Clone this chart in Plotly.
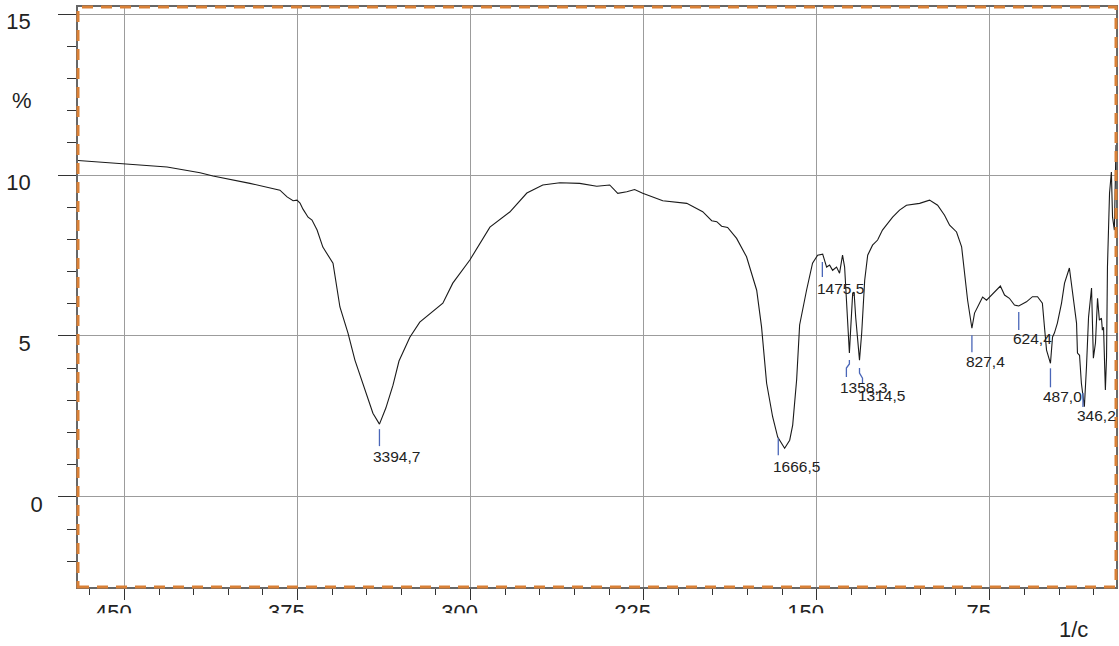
import plotly.graph_objects as go

# ---------------- data ----------------
wavenumber = [4701, 4501, 4315, 4172, 4116, 3956, 3856, 3826, 3795, 3769, 3752, 3739, 3726,
              3704, 3687, 3665, 3640, 3596, 3566, 3531, 3501, 3458, 3423, 3394.7, 3367, 3336,
              3310, 3263, 3220, 3120, 3077, 3003, 2916, 2830, 2756, 2687, 2613, 2527, 2453,
              2397, 2362, 2323, 2289, 2254, 2167, 2063, 1994, 1955, 1933, 1912, 1886, 1847,
              1804, 1760, 1739, 1717, 1691, 1669, 1639, 1617, 1604, 1587, 1574, 1544, 1518,
              1496, 1474, 1457, 1444, 1431, 1414, 1401, 1388, 1379, 1370, 1358.3, 1353, 1344,
              1338, 1331, 1314.5, 1305, 1292, 1279, 1258, 1236, 1215, 1171, 1141, 1111, 1054,
              1033, 1011, 976, 946, 924, 894, 872, 859, 846, 827.4, 816, 794, 781, 764, 743,
              721, 704, 686, 665, 643, 624.4, 591, 565, 543, 522, 513, 504, 487.0, 483, 478,
              470, 457, 439, 426, 405, 392, 374, 370, 361, 353, 340, 331, 322, 309, 305, 301,
              292, 283, 275, 266, 262, 257, 249, 244, 240, 231, 223, 218, 210, 203]
transmittance = [10.45, 10.35, 10.25, 10.07, 9.97, 9.74, 9.58, 9.53, 9.32, 9.20, 9.22, 9.13, 8.94,
                 8.69, 8.60, 8.29, 7.76, 7.26, 5.90, 5.09, 4.25, 3.32, 2.60, 2.26, 2.76, 3.47,
                 4.22, 4.96, 5.43, 6.02, 6.64, 7.36, 8.38, 8.85, 9.44, 9.69, 9.76, 9.74, 9.65,
                 9.69, 9.43, 9.48, 9.55, 9.43, 9.20, 9.12, 8.86, 8.58, 8.55, 8.41, 8.37, 8.03,
                 7.46, 6.42, 5.28, 3.53, 2.49, 1.86, 1.51, 1.76, 2.23, 3.63, 5.34, 6.42, 7.26,
                 7.51, 7.54, 7.14, 7.20, 7.04, 7.14, 6.95, 7.51, 7.14, 5.89, 4.47, 5.18, 6.33,
                 6.36, 5.58, 4.25, 5.09, 6.73, 7.51, 7.82, 7.98, 8.29, 8.69, 8.91, 9.06, 9.12,
                 9.17, 9.22, 9.06, 8.75, 8.44, 8.23, 7.77, 6.95, 6.11, 5.24, 5.71, 6.02, 6.21,
                 6.11, 6.27, 6.42, 6.55, 6.27, 6.17, 5.96, 5.93, 6.06, 6.22, 6.22, 6.02, 5.28,
                 4.56, 4.15, 4.56, 4.97, 5.09, 5.40, 6.02, 6.64, 7.11, 6.33, 5.40, 4.47, 4.40,
                 3.53, 2.80, 4.03, 5.58, 6.49, 5.40, 4.31, 4.78, 6.17, 5.49, 5.55, 5.18, 5.27,
                 3.32, 4.34, 7.14, 9.44, 10.09, 8.69, 8.29, 10.93]

peak_wn = [3394.7, 1666.5, 1475.5, 1358.3, 1314.5, 827.4, 624.4, 487.0, 346.2]
peak_t = [2.26, 1.98, 7.45, 4.47, 4.25, 5.18, 5.90, 4.15, 3.38]

x_tickvals = [4500, 3750, 3000, 2250, 1500, 750]
x_ticktext = ["450", "375", "300", "225", "150", "75"]
y_tickvals = [15, 10, 5, 0]
y_ticktext = ["15", "10", "5", "0"]

# ---------------- label placement (style) ----------------
label_dx = [-7, -6, -6, -10, -3, -7, -7, -8, -7]
label_dy = [32, 33, 31, 34, 35, 31, 32, 33, 27]
marker_len = [22, 22, 20, None, None, 22, 23, 24, 19]
marker_path = {3: "M0,-7 L0,-11 L-3,-15 L-3,-24", 4: "M0,-8 L0,-13 L3,-18 L3,-23"}
y_label_pad = {15: "\u00a0\u00a0", 10: "\u00a0\u00a0", 5: "\u00a0\u00a0", 0: ""}

FONT = "Liberation Sans, Arial, sans-serif"
BLUE = "#4a66b8"
ORANGE = "#D98036"

fig = go.Figure()
fig.add_trace(go.Scatter(x=wavenumber, y=transmittance, mode="lines",
                         line=dict(color="#1a1a1a", width=1.1), hoverinfo="skip",
                         showlegend=False))

shapes = []
annotations = []
for i, (wn, t) in enumerate(zip(peak_wn, peak_t)):
    if i in marker_path:
        shapes.append(dict(type="path", xref="x", yref="y", xsizemode="pixel",
                           ysizemode="pixel", xanchor=wn, yanchor=t,
                           path=marker_path[i], line=dict(color=BLUE, width=1.3)))
    else:
        shapes.append(dict(type="line", xref="x", yref="y", ysizemode="pixel",
                           yanchor=t, x0=wn, x1=wn, y0=-5, y1=-marker_len[i],
                           line=dict(color=BLUE, width=1.3)))
    annotations.append(dict(x=wn, y=t, xref="x", yref="y",
                            text=f"{wn:.1f}".replace(".", ","), showarrow=False,
                            xanchor="left", yanchor="middle", xshift=label_dx[i],
                            yshift=-label_dy[i], borderpad=0,
                            font=dict(family=FONT, size=15.5, color="#222222")))

# dashed orange frame
shapes.append(dict(type="rect", xref="paper", yref="paper", x0=0, x1=1, y0=0, y1=1,
                   line=dict(color=ORANGE, width=3, dash="11px,8px"), layer="above"))
# mask clipping the lower part of the x tick labels
shapes.append(dict(type="rect", xref="paper", yref="paper", x0=-0.08, x1=0.93,
                   y0=-0.2, y1=-0.0454, fillcolor="white", line=dict(width=0),
                   layer="above"))

annotations.append(dict(x=-0.0536, y=0.838, xref="paper", yref="paper", text="%",
                        showarrow=False, xanchor="center", yanchor="middle",
                        font=dict(family=FONT, size=22, color="#222222")))
annotations.append(dict(x=0.959, y=-0.073, xref="paper", yref="paper", text="1/c",
                        showarrow=False, xanchor="center", yanchor="middle",
                        font=dict(family=FONT, size=22, color="#222222")))

fig.update_layout(
    width=1119, height=646,
    margin=dict(l=78, r=3, t=7, b=59, autoexpand=False),
    paper_bgcolor="white", plot_bgcolor="white",
    shapes=shapes, annotations=annotations,
    font=dict(family=FONT, size=22, color="#222222"),
    showlegend=False,
)
fig.update_xaxes(
    range=[4701, 203], tickvals=x_tickvals, ticktext=x_ticktext, automargin=False,
    showgrid=True, gridcolor="#9c9c9c", gridwidth=1, zeroline=False,
    showline=True, mirror=True, linecolor="#666666", linewidth=1.5,
    ticks="outside", ticklen=11, tickcolor="#333333", tickwidth=1,
    minor=dict(dtick=150, tick0=4500, ticks="outside", ticklen=6,
               tickcolor="#333333", showgrid=False),
    ticklabelshift=11, ticklabelstandoff=-6, ticklabeloverflow="allow",
    tickfont=dict(family=FONT, size=22, color="#222222"),
)
fig.update_yaxes(
    range=[-2.8, 15.22], tickvals=y_tickvals,
    ticktext=[t + y_label_pad[v] for v, t in zip(y_tickvals, y_ticktext)],
    automargin=False,
    showgrid=True, gridcolor="#9c9c9c", gridwidth=1, zeroline=False,
    showline=True, mirror=True, linecolor="#666666", linewidth=1.5,
    ticks="outside", ticklen=18, tickcolor="#333333", tickwidth=1,
    minor=dict(dtick=1, tick0=0, ticks="outside", ticklen=9,
               tickcolor="#333333", showgrid=False),
    ticklabelshift=7, ticklabelstandoff=11, ticklabeloverflow="allow",
    tickfont=dict(family=FONT, size=22, color="#222222"),
)

fig.write_html("out.html", config={"displayModeBar": False},
               post_script="document.body.style.margin='0px';")
